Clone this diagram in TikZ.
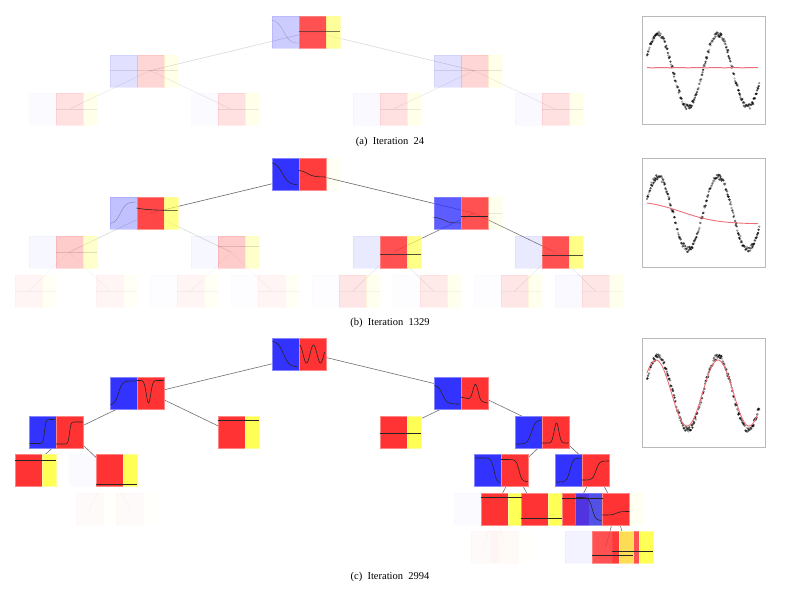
\documentclass[tikz,border=0pt]{standalone}
\usepackage{fontspec}
\setmainfont{Liberation Serif}
\usetikzlibrary{backgrounds}

\definecolor{gateblue}{RGB}{51,51,255}
\definecolor{expred}{RGB}{255,51,51}
\definecolor{leafyel}{RGB}{255,255,85}
\definecolor{fitred}{RGB}{238,110,120}

\tikzset{
  cell/.style={anchor=north west, inner sep=0pt, minimum height=32, line width=.3pt},
  gatebox/.style={cell, minimum width=27, fill=gateblue, draw=gateblue!60!white},
  expbox/.style={cell, minimum width=27, fill=expred, draw=expred!60!white},
  leafbox/.style={cell, minimum width=14, fill=leafyel, draw=leafyel!60!white},
  curve/.style={line width=.6pt, black!85},
  edge/.style={line width=.6pt, black!75},
  frame/.style={anchor=north west, inner sep=0pt, draw=gray!55, line width=.8pt,
    minimum width=122.5, minimum height=108.6},
  fitline/.style={draw=fitred, line width=.9pt},
  captext/.style={font=\fontsize{10.5}{12}\selectfont, inner sep=0.75pt},
  dot/.style={black},
}

% one tree node: name, red centre x, top y, gate / expert / leaf opacity
\newcommand{\mnode}[6]{%
  \node[gatebox, opacity=#4] (#1-g) at (#2-40.5,#3) {};
  \node[expbox, opacity=#5] (#1-e) at (#2-13.5,#3) {};
  \node[leafbox, opacity=#6] (#1-y) at (#2+13.5,#3) {};
}

\begin{document}
\begin{tikzpicture}[x=1pt,y=-1pt,
  declare function={sig(\t)=1/(1+exp(min(9,max(-9,-\t))));
                    gau(\t)=exp(max(-9,-\t*\t/2));}]
\useasboundingbox (0,0) rectangle (800,589);

%%%%% (a) Iteration 24
\mnode{a0}{312}{15.5}{.25}{.85}{.6}
\mnode{a1}{150}{54.5}{.15}{.2}{.12}
\mnode{a2}{474}{54.5}{.15}{.2}{.12}
\mnode{a3}{69}{93}{.02}{.15}{.12}
\mnode{a4}{231}{93}{.02}{.15}{.12}
\mnode{a5}{393}{93}{.03}{.15}{.12}
\mnode{a6}{555}{93}{.03}{.15}{.12}

\begin{scope}[shift={(a0-g.north west)}]
  \draw[curve, opacity=.2] plot[domain=0:27, samples=30] (\x,{4+24*sig(0.3*(\x-12))});
\end{scope}
\begin{scope}[shift={(a0-e.north west)}]
  \draw[curve, opacity=.6] (0,15.5) -- (41,15.5);
\end{scope}
\foreach \n in {a1,a2} {
  \begin{scope}[shift={(\n-g.north west)}]
    \draw[curve, opacity=.12] (0,16) -- (68,16);
  \end{scope}
}
\foreach \n in {a3,a4,a5,a6} {
  \begin{scope}[shift={(\n-e.north west)}]
    \draw[curve, opacity=.1] (0,16) -- (41,16);
  \end{scope}
}

%%%%% (b) Iteration 1329
\mnode{b0}{312}{158}{1}{.95}{.05}
\mnode{b1}{150}{197}{.3}{.9}{.7}
\mnode{b2}{474}{197}{.8}{.85}{.1}
\mnode{b3}{69}{236}{.04}{.25}{.3}
\mnode{b4}{231}{236}{.04}{.25}{.3}
\mnode{b5}{393}{236}{.1}{.85}{.7}
\mnode{b6}{555}{236}{.1}{.85}{.7}
\mnode{b7}{28.5}{275}{0}{.05}{.05}
\mnode{b8}{109.5}{275}{0}{.05}{.05}
\mnode{b9}{190.5}{275}{.01}{.05}{.05}
\mnode{b10}{271.5}{275}{.01}{.05}{.05}
\mnode{b11}{352.5}{275}{.01}{.12}{.1}
\mnode{b12}{433.5}{275}{.01}{.1}{.1}
\mnode{b13}{514.5}{275}{.01}{.12}{.1}
\mnode{b14}{595.5}{275}{.03}{.12}{.1}

\begin{scope}[shift={(b0-g.north west)}]
  \draw[curve] plot[domain=1:26, samples=30] (\x,{4+23*sig(0.3*(\x-11))});
\end{scope}
\begin{scope}[shift={(b0-e.north west)}]
  \draw[curve] plot[domain=0:27, samples=30] (\x,{12+7*sig(0.3*(\x-9))});
\end{scope}
\begin{scope}[shift={(b1-g.north west)}]
  \draw[curve, opacity=.3] plot[domain=1:26, samples=30] (\x,{27-22*sig(0.35*(\x-11))});
\end{scope}
\begin{scope}[shift={(b1-e.north west)}]
  \draw[curve] plot[domain=0:41, samples=30] (\x,{11+2.5*(1-exp(-\x/12))});
\end{scope}
\begin{scope}[shift={(b2-g.north west)}]
  \draw[curve, opacity=.75] plot[domain=0:27, samples=30] (\x,{20+6*sig(0.3*(\x-10))});
\end{scope}
\begin{scope}[shift={(b2-e.north west)}]
  \draw[curve] (0,19) -- (27,19);
  \draw[curve, opacity=.1] (27,16) -- (41,16);
\end{scope}
\begin{scope}[shift={(b3-e.north west)}]
  \draw[curve, opacity=.15] (0,16) -- (41,16);
\end{scope}
\begin{scope}[shift={(b4-e.north west)}]
  \draw[curve, opacity=.15] (0,10.7) -- (41,10.7);
\end{scope}
\begin{scope}[shift={(b5-e.north west)}]
  \draw[curve, opacity=.8] (0,18) -- (41,18);
\end{scope}
\begin{scope}[shift={(b6-e.north west)}]
  \draw[curve, opacity=.8] (0,19) -- (41,19);
\end{scope}
\foreach \n in {b7,b8,b9,b10,b11,b12,b13,b14} {
  \begin{scope}[shift={(\n-e.north west)}]
    \draw[curve, opacity=.05] (0,16) -- (41,16);
  \end{scope}
}

%%%%% (c) Iteration 2994
\mnode{c0}{312}{338}{1}{1}{0}
\mnode{c1}{150}{377}{1}{1}{0}
\mnode{c2}{474}{377}{1}{1}{0}
\mnode{c3}{69}{416}{1}{1}{0}
\mnode{c4}{231}{416}{0}{1}{1}
\mnode{c5}{393}{416}{0}{1}{1}
\mnode{c6}{555}{416}{1}{1}{0}
\mnode{c7}{28.5}{454}{0}{1}{1}
\mnode{c8}{109.5}{454}{.02}{1}{1}
\mnode{c9}{514.5}{454}{1}{1}{0}
\mnode{c10}{595.5}{454}{1}{1}{0}
\mnode{c11}{89.25}{492.5}{0}{.025}{.025}
\mnode{c12}{129.75}{492.5}{0}{.025}{.025}
\mnode{c13}{494.25}{492.5}{.02}{1}{1}
\mnode{c14}{534.75}{492.5}{0}{1}{1}
\mnode{c15}{575.25}{492.5}{0}{1}{1}
\mnode{c16}{615.75}{492.5}{.85}{1}{.08}
\mnode{c17}{484.1}{531}{0}{.025}{.025}
\mnode{c18}{504.4}{531}{0}{.025}{.025}
\mnode{c20}{625.9}{531}{0}{.85}{1}
\mnode{c19}{605.6}{531}{.06}{.85}{.8}

\begin{scope}[shift={(c0-g.north west)}]
  \draw[curve] plot[domain=1:26, samples=30] (\x,{3+26*sig(0.35*(\x-12))});
\end{scope}
\begin{scope}[shift={(c0-e.north west)}]
  \draw[curve] plot[domain=1:26, samples=60] (\x,{16-9*cos((\x-1)/14*360)});
\end{scope}
\begin{scope}[shift={(c1-g.north west)}]
  \draw[curve] plot[domain=1:26, samples=40] (\x,{28-24*sig(0.5*(\x-9))});
\end{scope}
\begin{scope}[shift={(c1-e.north west)}]
  \draw[curve] plot[domain=0:27, samples=60] (\x,{3.5+22.5*gau((\x-12)/2.2)});
\end{scope}
\begin{scope}[shift={(c2-g.north west)}]
  \draw[curve] plot[domain=1:26, samples=40] (\x,{8+19*sig(0.45*(\x-9))});
\end{scope}
\begin{scope}[shift={(c2-e.north west)}]
  \draw[curve] plot[domain=0:27, samples=60] (\x,{20+6*\x/27-16*gau((\x-15)/2.5)});
\end{scope}
\begin{scope}[shift={(c3-g.north west)}]
  \draw[curve] plot[domain=1:26, samples=60] (\x,{27.5-24*sig(1.4*(\x-16))});
\end{scope}
\begin{scope}[shift={(c3-e.north west)}]
  \draw[curve] plot[domain=0:27, samples=60] (\x,{28-22*sig(1.4*(\x-14))});
\end{scope}
\begin{scope}[shift={(c4-e.north west)}]
  \draw[curve] (0,4.7) -- (41,4.7);
\end{scope}
\begin{scope}[shift={(c5-e.north west)}]
  \draw[curve] (0,17) -- (41,17);
\end{scope}
\begin{scope}[shift={(c6-g.north west)}]
  \draw[curve] plot[domain=1:26, samples=40] (\x,{28-24*sig(0.5*(\x-17))});
\end{scope}
\begin{scope}[shift={(c6-e.north west)}]
  \draw[curve] plot[domain=0:27, samples=60] (\x,{27-20*gau((\x-15)/2.3)});
\end{scope}
\begin{scope}[shift={(c7-e.north west)}]
  \draw[curve] (0,6) -- (41,6);
\end{scope}
\begin{scope}[shift={(c8-e.north west)}]
  \draw[curve] (0,30) -- (41,30);
\end{scope}
\begin{scope}[shift={(c9-g.north west)}]
  \draw[curve] plot[domain=1:26, samples=40] (\x,{4+25*sig(0.7*(\x-20))});
\end{scope}
\begin{scope}[shift={(c9-e.north west)}]
  \draw[curve] plot[domain=0:27, samples=40] (\x,{5.5+22*sig(0.7*(\x-18))});
\end{scope}
\begin{scope}[shift={(c10-g.north west)}]
  \draw[curve] plot[domain=1:26, samples=40] (\x,{28-24*sig(0.6*(\x-15))});
\end{scope}
\begin{scope}[shift={(c10-e.north west)}]
  \draw[curve] plot[domain=0:27, samples=40] (\x,{26-19*sig(0.6*(\x-14))});
\end{scope}
\begin{scope}[shift={(c13-e.north west)}]
  \draw[curve] (0,4.5) -- (41,4.5);
\end{scope}
\begin{scope}[shift={(c14-e.north west)}]
  \draw[curve] (0,25.5) -- (41,25.5);
\end{scope}
\begin{scope}[shift={(c15-e.north west)}]
  \draw[curve] (0,5.5) -- (41,5.5);
\end{scope}
\begin{scope}[shift={(c16-g.north west)}]
  \draw[curve] plot[domain=1:26, samples=40] (\x,{5+23*sig(0.6*(\x-17))});
\end{scope}
\begin{scope}[shift={(c16-e.north west)}]
  \draw[curve] plot[domain=0:27, samples=30] (\x,{22.5-3.5*sig(0.5*(\x-14))});
\end{scope}
\begin{scope}[shift={(c19-e.north west)}]
  \draw[curve] (0,24) -- (41,24);
\end{scope}
\begin{scope}[shift={(c20-e.north west)}]
  \draw[curve] (0,20) -- (41,20);
\end{scope}

%%%%% connectors, behind the cells
\begin{pgfonlayer}{background}
  \foreach \p/\c in {a0/a1,a0/a2}
    \draw[edge, opacity=.2] (\p-e.center) -- (\c-e.center);
  \foreach \p/\c in {a1/a3,a1/a4,a2/a5,a2/a6}
    \draw[edge, opacity=.12] (\p-e.center) -- (\c-e.center);
  \foreach \p/\c/\o in {b0/b1/.8,b0/b2/.8,b1/b3/.2,b1/b4/.2,b2/b5/.7,b2/b6/.7,
      b3/b7/.05,b3/b8/.05,b4/b9/.05,b4/b10/.05,b5/b11/.12,b5/b12/.12,b6/b13/.12,b6/b14/.12}
    \draw[edge, opacity=\o] (\p-e.center) -- (\c-e.center);
  \foreach \p/\c/\o in {c0/c1/.75,c0/c2/.75,c1/c3/.75,c1/c4/.75,c2/c5/.75,c2/c6/.75,
      c3/c7/.75,c3/c8/.75,c6/c9/.75,c6/c10/.75,c8/c11/.04,c8/c12/.04,
      c9/c13/.75,c9/c14/.75,c10/c15/.75,c10/c16/.75,c13/c17/.04,c13/c18/.04,
      c16/c19/.75,c16/c20/.75}
    \draw[edge, opacity=\o] (\p-e.center) -- (\c-e.center);
\end{pgfonlayer}

%%%%% fitted curves on the right
\node[frame] (fa) at (642,15.7) {};
\node[frame] (fb) at (642,158.3) {};
\node[frame] (fc) at (642,338.3) {};

\begin{scope}
\pgfmathsetseed{7}
\foreach \i in {0,...,220} {
  \pgfmathsetmacro\px{647+\i*0.51}
  \pgfmathsetmacro\sy{70.5-36.5*cos((\px-658)*6)}
  \pgfmathsetmacro\ya{\sy+2.6*rand}
  \pgfmathsetmacro\yb{142.6+\sy+2.6*rand}
  \pgfmathsetmacro\yc{322.6+\sy+2.6*rand}
  \pgfmathsetmacro\po{0.25+0.55*rnd}
  \fill[dot, opacity=\po] (\px,\ya) circle (1.25);
  \fill[dot, opacity=\po] (\px,\yb) circle (1.25);
  \fill[dot, opacity=\po] (\px,\yc) circle (1.25);
}
\end{scope}

\draw[fitline, line width=1pt] plot[domain=647:758, samples=40] (\x,{67.7+0.08*sin(\x*20)});
\draw[fitline] plot[domain=647:758, samples=60] (\x,{200+24*sig((\x-682)/18)});
\draw[fitline] plot[domain=647:758, samples=80] (\x,{393-33*cos((\x-656)/62*360)});

% Text Node
\node[captext] (capa) at (390,141.5) {(a)\ \ Iteration\ \ 24};
% Text Node
\node[captext] (capb) at (390,323) {(b)\ \ Iteration\ \ 1329};
% Text Node
\node[captext] (capc) at (390,577) {(c)\ \ Iteration\ \ 2994};

\end{tikzpicture}
\end{document}
